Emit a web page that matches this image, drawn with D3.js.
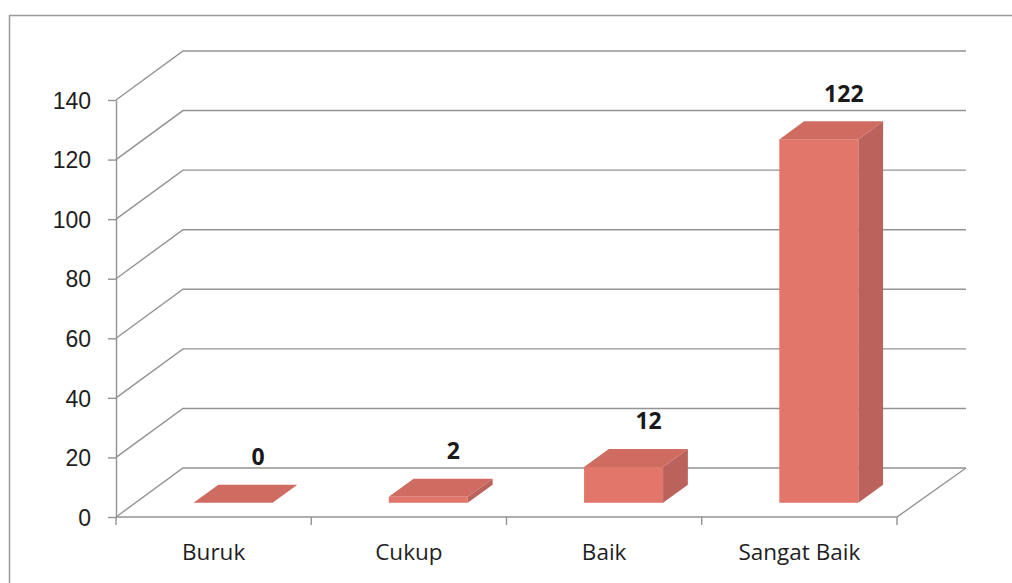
<!DOCTYPE html>
<html>
<head>
<meta charset="utf-8">
<script src="https://cdn.jsdelivr.net/npm/d3@7"></script>
<style>
  body { margin: 0; background: #fff; }
  svg { display: block; font-family: "Open Sans", "Noto Sans", sans-serif; }
</style>
</head>
<body>
<div id="chart"></div>
<script>
// data
var categories = ["Buruk", "Cukup", "Baik", "Sangat Baik"];
var values = [0, 2, 12, 122];
var yTicks = [0, 20, 40, 60, 80, 100, 120, 140];

var W = 1012, H = 583;
var plotL = 116, plotR = 897, plotB = 517, plotT = 100;
var depthX = 67, depthY = -49;   // back wall offset
var f0 = 0.29, f1 = 0.66;        // bar front / back depth fraction
var barW = 79;

var svg = d3.select("#chart").append("svg")
    .attr("width", W)
    .attr("height", H);

// frame (only top and left show in the crop)
svg.append("rect")
    .attr("x", 9.5).attr("y", 15.5)
    .attr("width", W + 20).attr("height", H + 20)
    .attr("fill", "none")
    .attr("stroke", "#9a9a9a")
    .attr("stroke-width", 1.5);

var y = d3.scaleLinear().domain([0, 140]).range([plotB, plotT]);
var x = d3.scaleBand().domain(categories).range([plotL, plotR]);

var grid = svg.append("g")
    .attr("fill", "none")
    .attr("stroke", "#939393")
    .attr("stroke-width", 1.4);

// side wall + back wall gridlines
grid.selectAll("path.gl")
    .data(yTicks)
    .enter().append("path")
    .attr("class", "gl")
    .attr("d", function (d) {
        var yy = y(d);
        return "M" + plotL + "," + yy +
            "L" + (plotL + depthX) + "," + (yy + depthY) +
            "L" + (plotR + depthX + 2) + "," + (yy + depthY);
    });

// floor
grid.append("path")
    .attr("d", "M" + plotL + "," + plotB + "L" + plotR + "," + plotB +
        "L" + (plotR + depthX + 2) + "," + (plotB + depthY));

// value axis
var yAxis = svg.append("g")
    .attr("transform", "translate(" + plotL + ",0)")
    .call(d3.axisLeft(y).tickValues(yTicks).tickSize(8).tickSizeOuter(0).tickPadding(17));
yAxis.select(".domain").attr("stroke", "#939393").attr("stroke-width", 1.4);
yAxis.selectAll(".tick line").attr("stroke", "#939393").attr("stroke-width", 1.4);
yAxis.selectAll(".tick text")
    .attr("fill", "#1e1e1e")
    .style("font-size", "23px")
    .attr("dy", "0.36em");

// category ticks at band edges
var edges = categories.map(function (c) { return x(c); }).concat([plotR]);
svg.append("g").selectAll("line")
    .data(edges)
    .enter().append("line")
    .attr("x1", function (d) { return d; })
    .attr("x2", function (d) { return d; })
    .attr("y1", plotB)
    .attr("y2", plotB + 8)
    .attr("stroke", "#939393")
    .attr("stroke-width", 1.4);

svg.append("g").selectAll("text")
    .data(categories)
    .enter().append("text")
    .attr("x", function (d) { return x(d) + x.bandwidth() / 2; })
    .attr("y", 560)
    .attr("text-anchor", "middle")
    .attr("fill", "#1e1e1e")
    .style("font-size", "22.5px")
    .text(function (d) { return d; });

// 3d bars
var bdx = (f1 - f0) * depthX, bdy = (f1 - f0) * depthY;
var bars = categories.map(function (c, i) {
    var x0 = x(c) + x.bandwidth() / 2 - barW / 2 + f0 * depthX;
    var yb = plotB + f0 * depthY;
    var h = y(0) - y(values[i]);
    return { c: c, v: values[i], x0: x0, yb: yb, yt: yb - h };
});

var g = svg.append("g").selectAll("g")
    .data(bars)
    .enter().append("g");

g.append("path")
    .attr("fill", "#ba625b")
    .attr("d", function (d) {
        var xr = d.x0 + barW;
        return "M" + xr + "," + d.yb + "L" + xr + "," + d.yt +
            "L" + (xr + bdx) + "," + (d.yt + bdy) +
            "L" + (xr + bdx) + "," + (d.yb + bdy) + "Z";
    });

g.append("rect")
    .attr("fill", "#e3766b")
    .attr("x", function (d) { return d.x0; })
    .attr("y", function (d) { return d.yt; })
    .attr("width", barW)
    .attr("height", function (d) { return d.yb - d.yt; });

g.append("path")
    .attr("fill", "#cf6b61")
    .attr("d", function (d) {
        return "M" + d.x0 + "," + d.yt + "L" + (d.x0 + barW) + "," + d.yt +
            "L" + (d.x0 + barW + bdx) + "," + (d.yt + bdy) +
            "L" + (d.x0 + bdx) + "," + (d.yt + bdy) + "Z";
    });

g.append("text")
    .attr("x", function (d) { return d.x0 + barW / 2 + 25; })
    .attr("y", function (d) { return d.yt - 46; })
    .attr("dy", "0.36em")
    .attr("text-anchor", "middle")
    .attr("fill", "#1a1a1a")
    .style("font-size", "23px")
    .style("font-weight", "bold")
    .text(function (d) { return d.v; });
</script>
</body>
</html>
